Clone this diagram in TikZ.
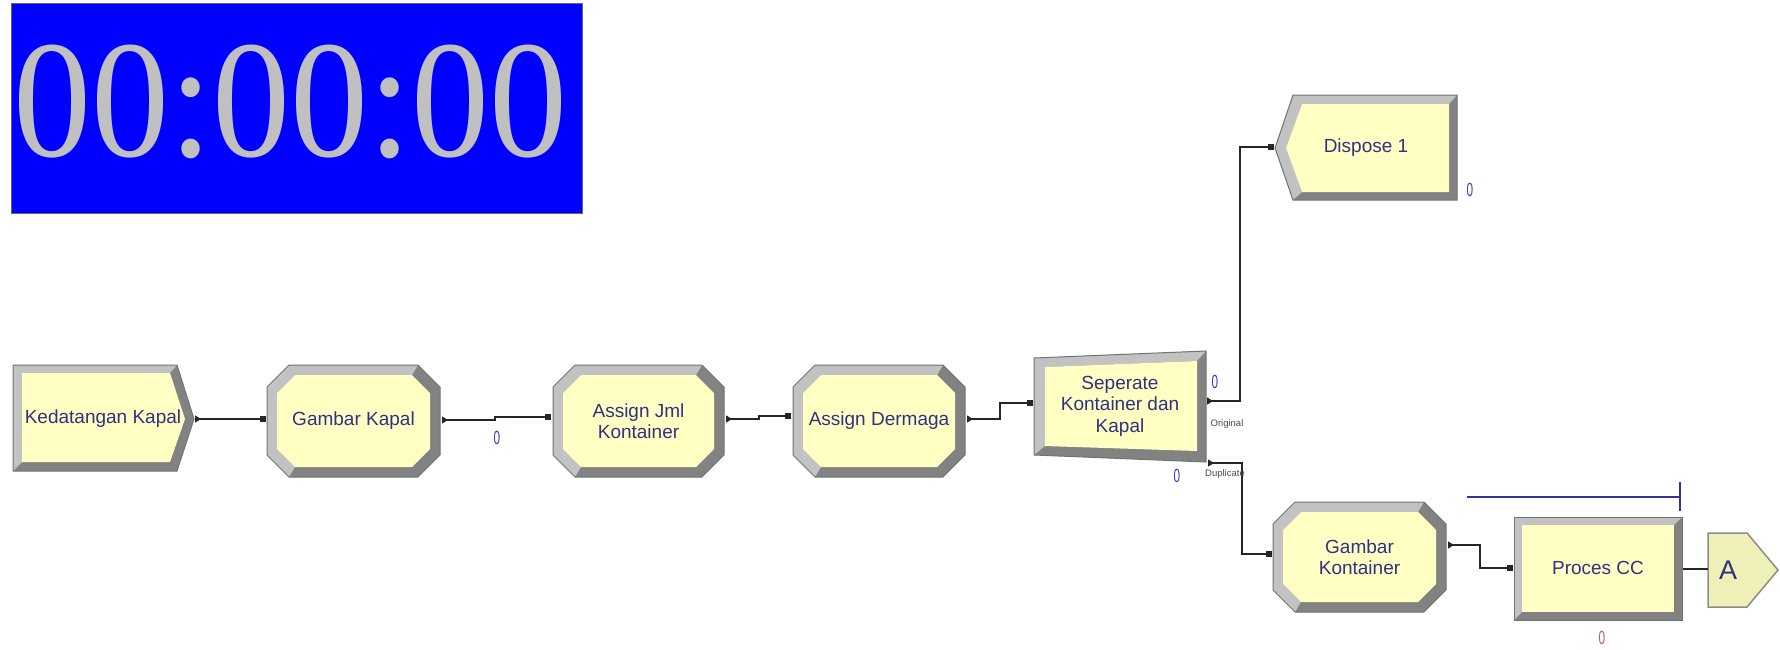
\documentclass[tikz,border=0pt]{standalone}
\usepackage{fontspec}
\usepackage{graphicx}
\setmainfont{Liberation Sans}
\newfontfamily\clockfont{Liberation Serif}
\usetikzlibrary{arrows.meta}

\definecolor{modfill}{RGB}{255,255,196}
\definecolor{bevlight}{RGB}{194,194,194}
\definecolor{bevdark}{RGB}{130,130,130}
\definecolor{bevedge}{RGB}{115,115,115}
\definecolor{modtext}{RGB}{50,48,130}
\definecolor{cnt}{RGB}{60,60,200}
\definecolor{cntred}{RGB}{190,90,90}
\definecolor{clockbg}{RGB}{0,0,255}
\definecolor{clockfg}{RGB}{192,192,192}
\definecolor{pagefill}{RGB}{238,240,184}
\definecolor{queueblue}{RGB}{50,50,160}

% narrow digits for the counters
\newcommand{\narrowdigit}[1]{\scalebox{0.62}[1]{#1}}

% bevelled octagon module: name, cx, cy, half width, half height, label
\newcommand{\octmodule}[6]{%
  \begin{scope}[shift={(#2,#3)}]
    \pgfmathsetmacro\octWo{#4}\pgfmathsetmacro\octHo{#5}
    \pgfmathsetmacro\octWi{#4-10}\pgfmathsetmacro\octHi{#5-10}
    \def\octCo{22}\def\octCi{18}
    \fill[bevdark] ({-\octWo+\octCo},-\octHo) -- ({\octWo-\octCo},-\octHo) -- (\octWo,{-\octHo+\octCo})
      -- (\octWo,{\octHo-\octCo}) -- ({\octWo-\octCo},\octHo) -- ({-\octWo+\octCo},\octHo)
      -- (-\octWo,{\octHo-\octCo}) -- (-\octWo,{-\octHo+\octCo}) -- cycle;
    \fill[bevlight] ({-\octWo+\octCo},\octHo) -- (-\octWo,{\octHo-\octCo}) -- (-\octWo,{-\octHo+\octCo})
      -- ({-\octWo+\octCo},-\octHo) -- ({\octWo-\octCo},-\octHo) -- ({\octWi-\octCi},-\octHi)
      -- ({-\octWi+\octCi},-\octHi) -- (-\octWi,{-\octHi+\octCi}) -- (-\octWi,{\octHi-\octCi})
      -- ({-\octWi+\octCi},\octHi) -- cycle;
    \fill[modfill] ({-\octWi+\octCi},-\octHi) -- ({\octWi-\octCi},-\octHi) -- (\octWi,{-\octHi+\octCi})
      -- (\octWi,{\octHi-\octCi}) -- ({\octWi-\octCi},\octHi) -- ({-\octWi+\octCi},\octHi)
      -- (-\octWi,{\octHi-\octCi}) -- (-\octWi,{-\octHi+\octCi}) -- cycle;
    \draw[outline] ({-\octWo+\octCo},-\octHo) -- ({\octWo-\octCo},-\octHo) -- (\octWo,{-\octHo+\octCo})
      -- (\octWo,{\octHo-\octCo}) -- ({\octWo-\octCo},\octHo) -- ({-\octWo+\octCo},\octHo)
      -- (-\octWo,{\octHo-\octCo}) -- (-\octWo,{-\octHo+\octCo}) -- cycle;
  \end{scope}
  \node[modlabel] (#1) at (#2,#3) {#6};
}

\begin{document}
\begin{tikzpicture}[x=1pt,y=-1pt,
  modlabel/.style={text=modtext,font=\fontsize{19}{21.5}\selectfont,align=center,inner sep=0pt},
  counter/.style={text=cnt,font=\fontsize{19}{19}\selectfont,inner sep=0pt},
  portlabel/.style={text=black!70,font=\fontsize{9.5}{10}\selectfont,inner sep=0pt},
  flow/.style={draw=black!85,line width=1.3pt,
    {Triangle[reversed,length=6pt,width=7pt]}-{Square[length=6pt,width=6pt]}},
  outline/.style={draw=bevedge,line width=1pt}]

\fill[white] (0,0) rectangle (1780,649);
\useasboundingbox (0,0) rectangle (1780,649);

% ---- simulation clock ----
\node[draw=black!60,line width=1pt,fill=clockbg,minimum width=571pt,minimum height=210pt,
  anchor=north west,inner sep=0pt] (clock) at (11,3) {};
\node[text=clockfg,font=\clockfont\fontsize{156}{156}\selectfont,inner sep=0pt,anchor=base]
  (clocktime) at (290.5,156) {\scalebox{1}[1.075]{00:00:00}};

% ---- Create: Kedatangan Kapal ----
\fill[bevdark] (13,365) -- (177,365) -- (194,419) -- (177,471) -- (13,471) -- cycle;
\fill[bevlight] (13,471) -- (13,365) -- (177,365) -- (170,373) -- (22,373) -- (22,462) -- cycle;
\fill[modfill] (22,373) -- (170,373) -- (185,419) -- (170,462) -- (22,462) -- cycle;
\draw[outline] (13,365) -- (177,365) -- (194,419) -- (177,471) -- (13,471) -- cycle;
\node[modlabel] (create) at (103,419) {Kedatangan Kapal};

% ---- Assign / Picture modules ----
\octmodule{gkapal}{353.5}{421}{86.5}{56}{Gambar Kapal}
\octmodule{ajml}{638.5}{421}{85.5}{56}{Assign Jml\\Kontainer}
\octmodule{adermaga}{879}{421}{86}{56}{Assign Dermaga}
\octmodule{gkont}{1359.5}{557}{86.5}{55}{Gambar\\Kontainer}

% ---- Separate ----
\fill[bevdark] (1034,358) -- (1206,351) -- (1206,462) -- (1034,455) -- cycle;
\fill[bevlight] (1034,455) -- (1034,358) -- (1206,351) -- (1197,361) -- (1045,367) -- (1045,446) -- cycle;
\fill[modfill] (1045,367) -- (1197,361) -- (1197,451) -- (1045,446) -- cycle;
\draw[outline] (1034,358) -- (1206,351) -- (1206,462) -- (1034,455) -- cycle;
\node[modlabel] (separate) at (1120,406) {Seperate\\Kontainer dan\\Kapal};

% ---- Dispose ----
\fill[bevdark] (1275,148) -- (1293,95) -- (1457,95) -- (1457,200) -- (1293,200) -- cycle;
\fill[bevlight] (1293,200) -- (1275,148) -- (1293,95) -- (1457,95) -- (1449,104) -- (1302,104)
  -- (1286,148) -- (1302,192) -- cycle;
\fill[modfill] (1286,148) -- (1302,104) -- (1449,104) -- (1449,192) -- (1302,192) -- cycle;
\draw[outline] (1275,148) -- (1293,95) -- (1457,95) -- (1457,200) -- (1293,200) -- cycle;
\node[modlabel] (dispose) at (1366,148) {Dispose 1};

% ---- Process ----
\fill[bevdark] (1514,517) rectangle (1682,620);
\fill[bevlight] (1514,620) -- (1514,517) -- (1682,517) -- (1674,525) -- (1522,525) -- (1522,612) -- cycle;
\fill[modfill] (1522,525) rectangle (1674,612);
\draw[outline] (1514,517) rectangle (1682,620);
\node[modlabel] (process) at (1598,568) {Proces CC};

% queue of the process
\coordinate (qstart) at (1467,497);
\coordinate (qend) at (1680,497);
\draw[queueblue,line width=1.4pt] (qstart) -- (qend);
\draw[queueblue,line width=1.4pt] ([yshift=-14pt]qend) -- ([yshift=15pt]qend);

% ---- page connector A ----
\draw[fill=pagefill,draw=black!45,line width=1.5pt]
  (1708,533) -- (1747,533) -- (1778,570) -- (1747,607) -- (1708,607) -- cycle;
\node[text=modtext,font=\fontsize{27}{27}\selectfont,inner sep=0pt] (pageA) at (1728,570) {A};

% ---- ports ----
\coordinate (create-out) at (195,419);
\coordinate (gkapal-in) at (266,419);
\coordinate (gkapal-out) at (442,420);
\coordinate (ajml-in) at (551,417);
\coordinate (ajml-out) at (726,419);
\coordinate (adermaga-in) at (791,416);
\coordinate (adermaga-out) at (967,419);
\coordinate (separate-in) at (1033,403);
\coordinate (separate-orig) at (1207,401);
\coordinate (separate-dup) at (1208,463);
\coordinate (dispose-in) at (1274,147);
\coordinate (gkont-in) at (1272,554);
\coordinate (gkont-out) at (1448,545);
\coordinate (process-in) at (1513,568);
\coordinate (process-out) at (1683,569);
\coordinate (pageA-in) at (1708,569);

% ---- connectors ----
\draw[flow] (create-out) -- (gkapal-in);
\draw[flow] (gkapal-out) -- (495,420) -- (495,417) -- (ajml-in);
\draw[flow] (ajml-out) -- (759,419) -- (759,416) -- (adermaga-in);
\draw[flow] (adermaga-out) -- (1000,419) -- (1000,403) -- (separate-in);
\draw[flow] (separate-orig) -- (1240,401) -- (1240,147) -- (dispose-in);
\draw[flow] (separate-dup) -- (1242,463) -- (1242,554) -- (gkont-in);
\draw[flow] (gkont-out) -- (1480,545) -- (1480,568) -- (process-in);
\draw[flow,-] (process-out) -- (pageA-in);

% ---- labels and counters ----
\node[portlabel] (lblorig) at (1227,424) {Original};
\node[portlabel] (lbldup) at (1225,474) {Duplicate};
\node[counter] (cnt1) at (497,438) {\narrowdigit{0}};
\node[counter] (cnt2) at (1215,382) {\narrowdigit{0}};
\node[counter] (cnt3) at (1177,476) {\narrowdigit{0}};
\node[counter] (cnt4) at (1470,190) {\narrowdigit{0}};
\node[counter,text=cntred] (cnt5) at (1602,638) {\narrowdigit{0}};
\end{tikzpicture}
\end{document}
